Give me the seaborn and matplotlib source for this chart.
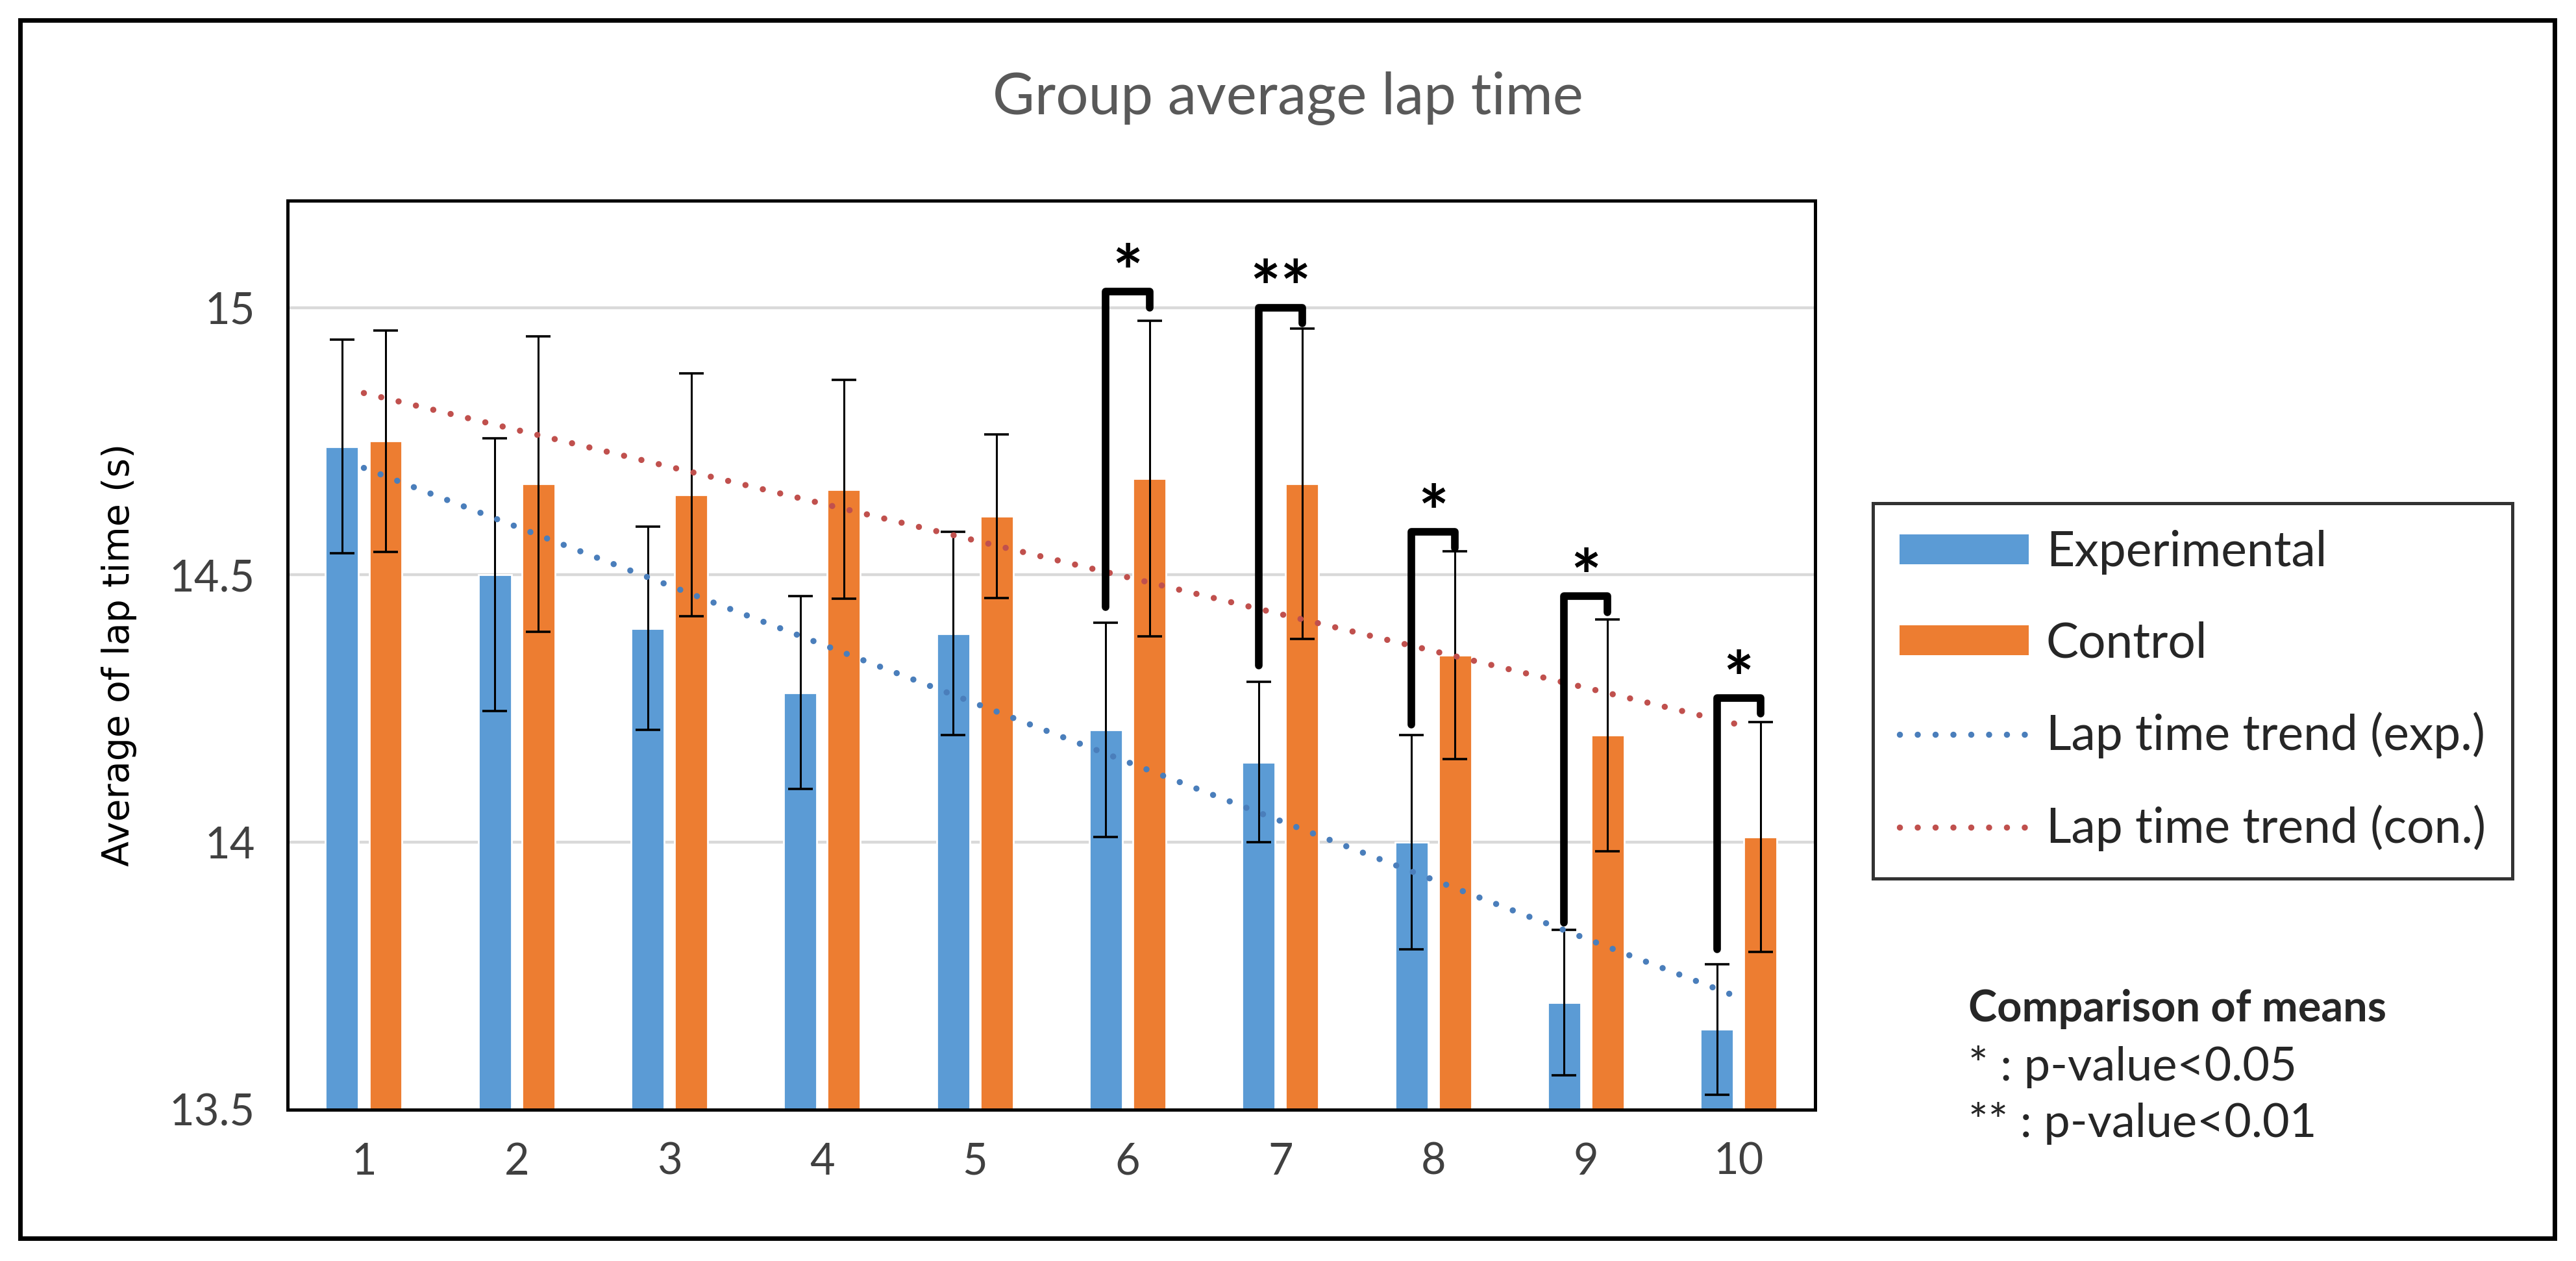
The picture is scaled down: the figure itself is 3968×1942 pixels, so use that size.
import numpy as np
import pandas as pd
import matplotlib
matplotlib.use('Agg')
import matplotlib.pyplot as plt
from matplotlib.patches import Patch, Rectangle
from matplotlib.lines import Line2D
import seaborn as sns

# lap numbers and group means (s)
laps = [1, 2, 3, 4, 5, 6, 7, 8, 9, 10]
exp_mean = [14.74, 14.50, 14.40, 14.28, 14.39, 14.21, 14.15, 14.00, 13.70, 13.65]
con_mean = [14.75, 14.67, 14.65, 14.66, 14.61, 14.68, 14.67, 14.35, 14.20, 14.01]
# half-length of the error bars
exp_err = [0.20, 0.255, 0.19, 0.18, 0.19, 0.20, 0.15, 0.20, 0.136, 0.122]
con_err = [0.207, 0.276, 0.227, 0.205, 0.153, 0.295, 0.29, 0.194, 0.217, 0.215]

# linear trend lines, values at lap 1 and lap 10
trend_laps = [1, 10]
trend_exp = [14.70, 13.71]
trend_con = [14.84, 14.22]

# significance brackets
sig_laps = [6, 7, 8, 9, 10]
sig_lo = [14.44, 14.33, 14.22, 13.85, 13.80]
sig_hi = [15.03, 15.00, 14.58, 14.46, 14.27]
sig_end = [15.00, 14.97, 14.55, 14.43, 14.24]
sig_txt = ['*', '**', '*', '*', '*']

blue = '#5B9BD5'
orange = '#ED7D31'
tblue = '#4A7EBB'
tred = '#C0504D'

sns.set_style('white')
plt.rcParams['font.family'] = ['Lato', 'DejaVu Sans']

df = pd.DataFrame({
    'lap': laps * 2,
    'time': exp_mean + con_mean,
    'group': ['Experimental'] * 10 + ['Control'] * 10,
})

fig = plt.figure(figsize=(19.84, 9.71), dpi=200)
ax = fig.add_axes([0.1116, 0.12, 0.593, 0.721])

sns.barplot(data=df, x='lap', y='time', hue='group', palette=[blue, orange],
            saturation=1, width=0.57, gap=0.24, errorbar=None, legend=False,
            ax=ax, zorder=2)

# bar centres per group
xe = [p.get_x() + p.get_width() / 2 for p in ax.containers[0]]
xc = [p.get_x() + p.get_width() / 2 for p in ax.containers[1]]

ax.errorbar(xe, exp_mean, yerr=exp_err, fmt='none', ecolor='black',
            elinewidth=1.1, capsize=7, capthick=1.3, zorder=3)
ax.errorbar(xc, con_mean, yerr=con_err, fmt='none', ecolor='black',
            elinewidth=1.1, capsize=7, capthick=1.3, zorder=3)

dot = (0, (0.01, 2.9))
ax.plot(np.array(trend_laps) - 1, trend_exp, color=tblue, lw=3.4,
        linestyle=dot, dash_capstyle='round', zorder=4)
ax.plot(np.array(trend_laps) - 1, trend_con, color=tred, lw=3.4,
        linestyle=dot, dash_capstyle='round', zorder=4)

for lap, lo, hi, end, s in zip(sig_laps, sig_lo, sig_hi, sig_end, sig_txt):
    i = laps.index(lap)
    ax.plot([xe[i], xe[i], xc[i], xc[i]], [lo, hi, hi, end], color='black',
            lw=4.2, solid_capstyle='round', solid_joinstyle='round', zorder=5)
    ax.text((xe[i] + xc[i]) / 2, hi - 0.035, s, ha='center', va='bottom',
            fontsize=40, fontweight='bold', color='black')

ax.set_xlim(-0.5, 9.5)
ax.set_ylim(13.5, 15.2)
ax.set_yticks([13.5, 14, 14.5, 15])
ax.set_yticklabels(['13.5', '14', '14.5', '15'])
ax.yaxis.grid(True, color='#D9D9D9', lw=1.6, zorder=0)
ax.set_axisbelow(True)
ax.tick_params(axis='both', length=0, labelsize=24, colors='#404040', pad=18)
ax.set_xlabel('')
ax.set_ylabel('Average of lap time (s)', fontsize=20.5, family='DejaVu Sans',
              labelpad=18, color='black')
for sp in ax.spines.values():
    sp.set_visible(True)
    sp.set_color('black')
    sp.set_linewidth(1.8)

fig.text(0.5, 0.922, 'Group average lap time', ha='center', va='center',
         fontsize=32, color='#595959')

handles = [Patch(facecolor=blue, edgecolor='none'),
           Patch(facecolor=orange, edgecolor='none'),
           Line2D([], [], color=tblue, lw=3.4, linestyle=dot, dash_capstyle='round'),
           Line2D([], [], color=tred, lw=3.4, linestyle=dot, dash_capstyle='round')]
labels = ['Experimental', 'Control', 'Lap time trend (exp.)', 'Lap time trend (con.)']
leg = fig.legend(handles, labels, loc='upper left', bbox_to_anchor=(0.727, 0.601),
                 fontsize=27, frameon=True, fancybox=False, handlelength=2.66,
                 handleheight=0.57, labelspacing=0.95, borderpad=0.55,
                 handletextpad=0.35, borderaxespad=0)
leg.get_frame().set_edgecolor('black')
leg.get_frame().set_linewidth(1.8)

fig.text(0.764, 0.200, 'Comparison of means', fontsize=24, fontweight='bold',
         va='center', ha='left')
fig.text(0.764, 0.154, '* : p-value<0.05', fontsize=26, va='center', ha='left')
fig.text(0.764, 0.109, '** : p-value<0.01', fontsize=26, va='center', ha='left')

# outer frame of the picture
fig.patches.append(Rectangle((0.0077, 0.018), 0.984, 0.966, transform=fig.transFigure,
                             fill=False, edgecolor='black', lw=2.5))

fig.savefig('out.png', dpi=200, facecolor='white')
